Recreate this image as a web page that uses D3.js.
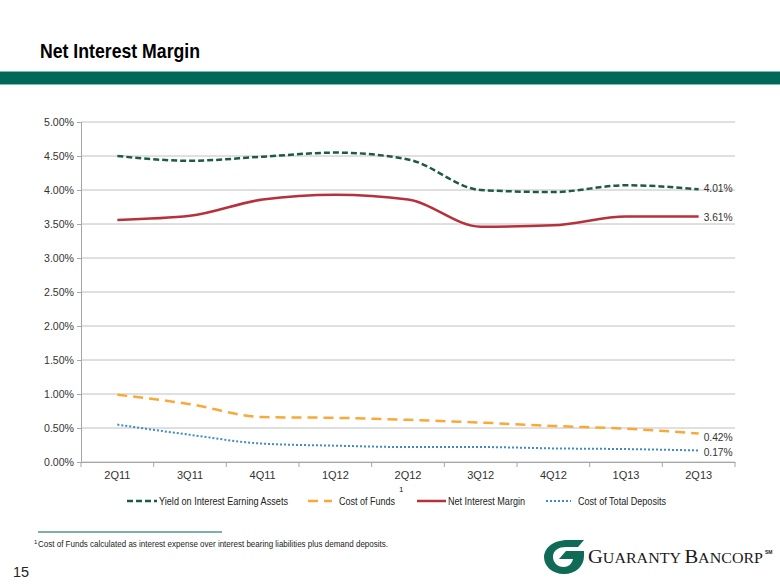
<!DOCTYPE html>
<html><head><meta charset="utf-8">
<script src="https://cdn.jsdelivr.net/npm/d3@7"></script>
<style>
html,body{margin:0;padding:0;background:#fff;}
svg{display:block;}
</style></head>
<body>
<script>
const categories = ["2Q11","3Q11","4Q11","1Q12","2Q12","3Q12","4Q12","1Q13","2Q13"];
const yieldAssets = [4.50,4.43,4.49,4.55,4.45,4.00,3.97,4.07,4.01];
const costFunds = [0.99,0.85,0.66,0.65,0.62,0.58,0.53,0.49,0.42];
const netMargin = [3.56,3.62,3.86,3.93,3.86,3.46,3.48,3.61,3.61];
const costDeposits = [0.55,0.40,0.27,0.24,0.22,0.22,0.20,0.19,0.17];
const yTicks = [0,0.5,1,1.5,2,2.5,3,3.5,4,4.5,5];
const seriesNames = ["Yield on Interest Earning Assets","Cost of Funds","Net Interest Margin","Cost of Total Deposits"];

const W=780,H=585;
const svg=d3.select("body").append("svg").attr("width",W).attr("height",H);
const sans="'Liberation Sans',Arial,sans-serif";

// title
svg.append("text").attr("x",40).attr("y",58).attr("font-family",sans).attr("font-weight","bold")
  .attr("font-size",21).attr("fill","#000").attr("textLength",160).attr("lengthAdjust","spacingAndGlyphs")
  .text("Net Interest Margin");
// band
svg.append("rect").attr("x",0).attr("y",71).attr("width",W).attr("height",14).attr("fill","#006858");
svg.append("rect").attr("x",0).attr("y",71).attr("width",W).attr("height",1).attr("fill","#7fb8ac");
svg.append("rect").attr("x",0).attr("y",84).attr("width",W).attr("height",1).attr("fill","#7fb8ac");

const x0=81,x1=735,yTop=122,yBot=462;
const x=d3.scaleBand().domain(categories).range([x0,x1]);
const y=d3.scaleLinear().domain([0,5]).range([yBot,yTop]);

// grid
svg.append("g").selectAll("line").data(yTicks).join("line")
  .attr("x1",x0).attr("x2",x1).attr("y1",d=>y(d)).attr("y2",d=>y(d))
  .attr("stroke","#c0c0c0").attr("stroke-width",1);

// y axis
const yAxis=svg.append("g").attr("transform",`translate(${x0},0)`)
  .call(d3.axisLeft(y).tickValues(yTicks).tickFormat(d=>d.toFixed(2)+"%").tickSize(4).tickPadding(3));
yAxis.select(".domain").attr("stroke","#a6a6a6");
yAxis.selectAll(".tick line").attr("stroke","#a6a6a6");
yAxis.selectAll("text").attr("font-family",sans).attr("font-size",11).attr("fill","#333")
  .attr("textLength",30).attr("lengthAdjust","spacingAndGlyphs");

// x axis
const xAxis=svg.append("g").attr("transform",`translate(0,${yBot})`)
  .call(d3.axisBottom(x).tickSize(0).tickPadding(9));
xAxis.select(".domain").attr("stroke","#a6a6a6");
xAxis.selectAll("text").attr("font-family",sans).attr("font-size",11).attr("fill","#333");
svg.append("g").selectAll("line").data(d3.range(categories.length+1)).join("line")
  .attr("x1",i=>x0+i*x.step()).attr("x2",i=>x0+i*x.step())
  .attr("y1",yBot).attr("y2",yBot+5).attr("stroke","#a6a6a6");

const series=[
 {name:seriesNames[0],vals:yieldAssets,color:"#1e5b43",dash:"6,3",w:2.5},
 {name:seriesNames[1],vals:costFunds,color:"#f8a93a",dash:"10,6",w:2.5},
 {name:seriesNames[2],vals:netMargin,color:"#b7313c",dash:null,w:2.5},
 {name:seriesNames[3],vals:costDeposits,color:"#3d8cc4",dash:"2,2",w:2}
];
const line=d3.line().x((d,i)=>x(categories[i])+x.bandwidth()/2).y(d=>y(d)).curve(d3.curveMonotoneX);
series.forEach(s=>{
  svg.append("path").attr("d",line(s.vals)).attr("fill","none").attr("stroke",s.color)
    .attr("stroke-width",s.w).attr("stroke-dasharray",s.dash);
});
// end labels
const labelDy=[-1,4,0,2];
series.forEach((s,k)=>{
  const v=s.vals[s.vals.length-1];
  svg.append("text").attr("x",x(categories[8])+x.bandwidth()/2+5).attr("y",y(v)+4+labelDy[k])
    .attr("font-family",sans).attr("font-size",11).attr("fill","#333")
    .attr("textLength",29).attr("lengthAdjust","spacingAndGlyphs").text(v.toFixed(2)+"%");
});

// legend
const legY=501;
const legItems=[
 {s:series[0],lx:127,lw:30,tx:159,tl:129},
 {s:series[1],lx:308,lw:24,tx:339,tl:56},
 {s:series[2],lx:417,lw:29,tx:448,tl:77},
 {s:series[3],lx:546,lw:25,tx:578,tl:88}
];
legItems.forEach(it=>{
  svg.append("line").attr("x1",it.lx).attr("x2",it.lx+it.lw).attr("y1",legY).attr("y2",legY)
    .attr("stroke",it.s.color).attr("stroke-width",it.s.w).attr("stroke-dasharray",it.s.dash);
  svg.append("text").attr("x",it.tx).attr("y",legY+4).attr("font-family",sans).attr("font-size",11)
    .attr("fill","#222").attr("textLength",it.tl).attr("lengthAdjust","spacingAndGlyphs").text(it.s.name);
});
svg.append("text").attr("x",399).attr("y",492).attr("font-family",sans).attr("font-size",8).attr("fill","#222").text("1");

// footnote
svg.append("line").attr("x1",38).attr("x2",222).attr("y1",532).attr("y2",532).attr("stroke","#7fb0a5").attr("stroke-width",2);
svg.append("text").attr("x",34).attr("y",544).attr("font-family",sans).attr("font-size",6).attr("fill","#222").text("1");
svg.append("text").attr("x",38).attr("y",547).attr("font-family",sans).attr("font-size",9.5).attr("fill","#222")
  .attr("textLength",350).attr("lengthAdjust","spacingAndGlyphs")
  .text("Cost of Funds calculated as interest expense over interest bearing liabilities plus demand deposits.");
svg.append("text").attr("x",13).attr("y",577).attr("font-family",sans).attr("font-size",15).attr("fill","#222")
  .attr("textLength",16).attr("lengthAdjust","spacingAndGlyphs").text("15");

// logo
const lg=svg.append("g");
lg.append("path").attr("d","M584,540 L568,540 C552,540 544,549 544,557 C544,566 552,574 564,574 C576,574 584,566 584,556 L584,551 L566,551 L559,559 L573,559 C572,564 568,567 564,567 C557,567 553,562 553,557 C553,550 559,547 566,547 L578,547 Z")
  .attr("fill","#0f6b55");
const lt=lg.append("text").attr("x",588).attr("y",563).attr("font-family","'Liberation Serif','Times New Roman',serif").attr("font-size",18).attr("fill","#1a1a1a")
  .attr("textLength",175).attr("lengthAdjust","spacingAndGlyphs");
lt.append("tspan").text("G");
lt.append("tspan").attr("font-size",14).text("UARANTY ");
lt.append("tspan").text("B");
lt.append("tspan").attr("font-size",14).text("ANCORP");
lg.append("text").attr("x",765).attr("y",554).attr("font-size",5).attr("font-family",sans).attr("font-weight","bold").attr("fill","#222").text("SM");
</script>
</body></html>
